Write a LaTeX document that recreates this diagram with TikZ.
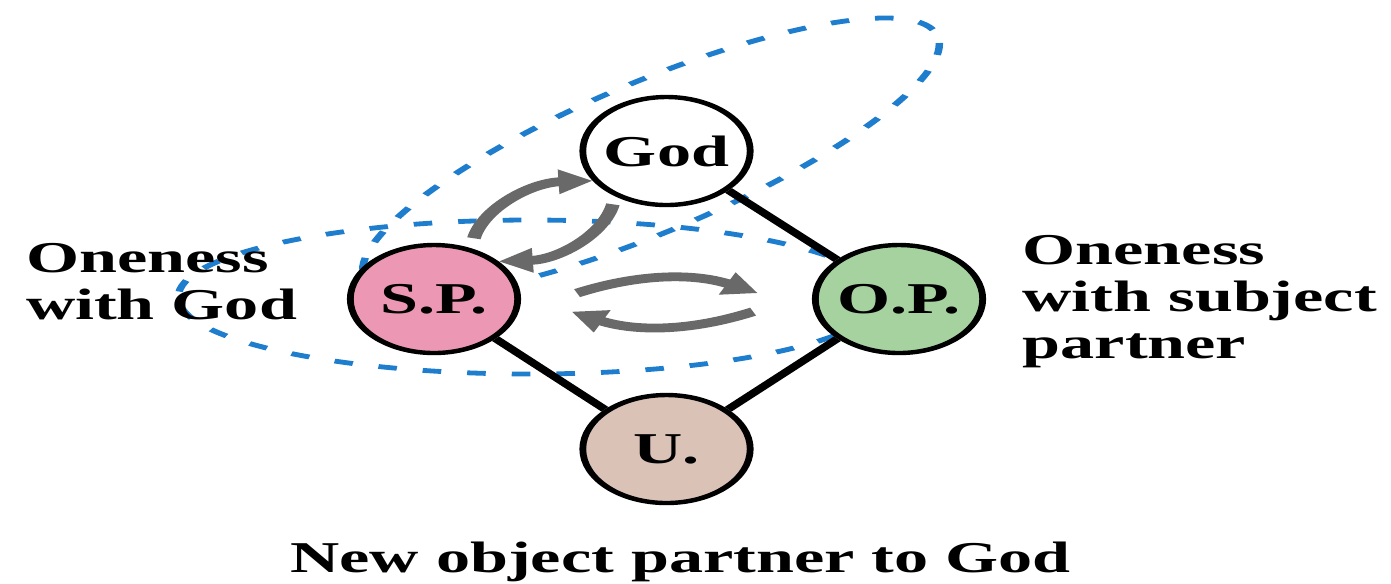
\documentclass[tikz,border=0pt]{standalone}
\usepackage{fontspec}
\setmainfont{Liberation Serif}
\usetikzlibrary{arrows.meta}
\definecolor{spfill}{RGB}{236,152,180}
\definecolor{opfill}{RGB}{166,210,160}
\definecolor{ufill}{RGB}{218,194,183}
\definecolor{onenessblue}{RGB}{30,125,205}
\definecolor{exchangegray}{RGB}{105,105,105}
\newcommand{\labelfont}{\fontsize{11}{11.75}\selectfont\bfseries}
\tikzset{partner/.style = {circle, draw, fill=white, line width=1.1pt, minimum size=27pt, inner sep=0pt, font=\labelfont}}
\tikzset{bond/.style = {line width=1.6pt}}
\tikzset{exchange/.style = {exchangegray, line width=2.2pt, -{Triangle[length=5.5pt,width=5.8pt]}}}
\tikzset{oneness/.style = {onenessblue, line width=1.2pt, dash pattern=on 3pt off 4.2pt}}
\tikzset{caption/.style = {inner sep=0pt, align=left, font=\labelfont}}

\begin{document}
\begin{tikzpicture}[x=0.25pt, y=0.25pt]
        \newcommand{\xstretch}{1.55}
        \useasboundingbox (0,0) rectangle (1391,583);

        \begin{scope}[transform canvas={xscale=\xstretch}]
            % Oneness
            \draw[oneness] (342,286) ellipse [x radius=227, y radius=77];
            \draw[oneness, rotate around={35:(420,426)}] (420,426) ellipse [x radius=222, y radius=68];

            % Partners
            \node[partner]              (god) at (430,432) {God};
            \node[partner, fill=spfill] (sp)  at (280,284) {S.P.};
            \node[partner, fill=opfill] (op)  at (580,284) {O.P.};
            \node[partner, fill=ufill]  (u)   at (430,134) {U.};

            \draw[bond] (god) -- (op);
            \draw[bond] (sp) -- (u);
            \draw[bond] (u) -- (op);

            % Give and take
            \draw[exchange, shorten <=2.5pt] (sp.65) to[bend left=38] (god.212);
            \draw[exchange, shorten <=2pt] (god.234) to[bend left=38] (sp.42);
            \draw[exchange] ([xshift=9.1pt]sp.6) to[bend left=26] ([xshift=-8.8pt]op.174);
            \draw[exchange] ([xshift=-9.85pt]op.193) to[bend left=26] ([xshift=8.5pt]sp.-13);

            % Labels
            \node[caption, anchor=north west] (sp label) at (16,340) {Oneness\\with God};
            \node[caption, anchor=north west] (op label) at (659,348) {Oneness\\with subject\\partner};
            \node[caption, anchor=base] (u label) at (439,11) {New object partner to God};
        \end{scope}
    \end{tikzpicture}
\end{document}
